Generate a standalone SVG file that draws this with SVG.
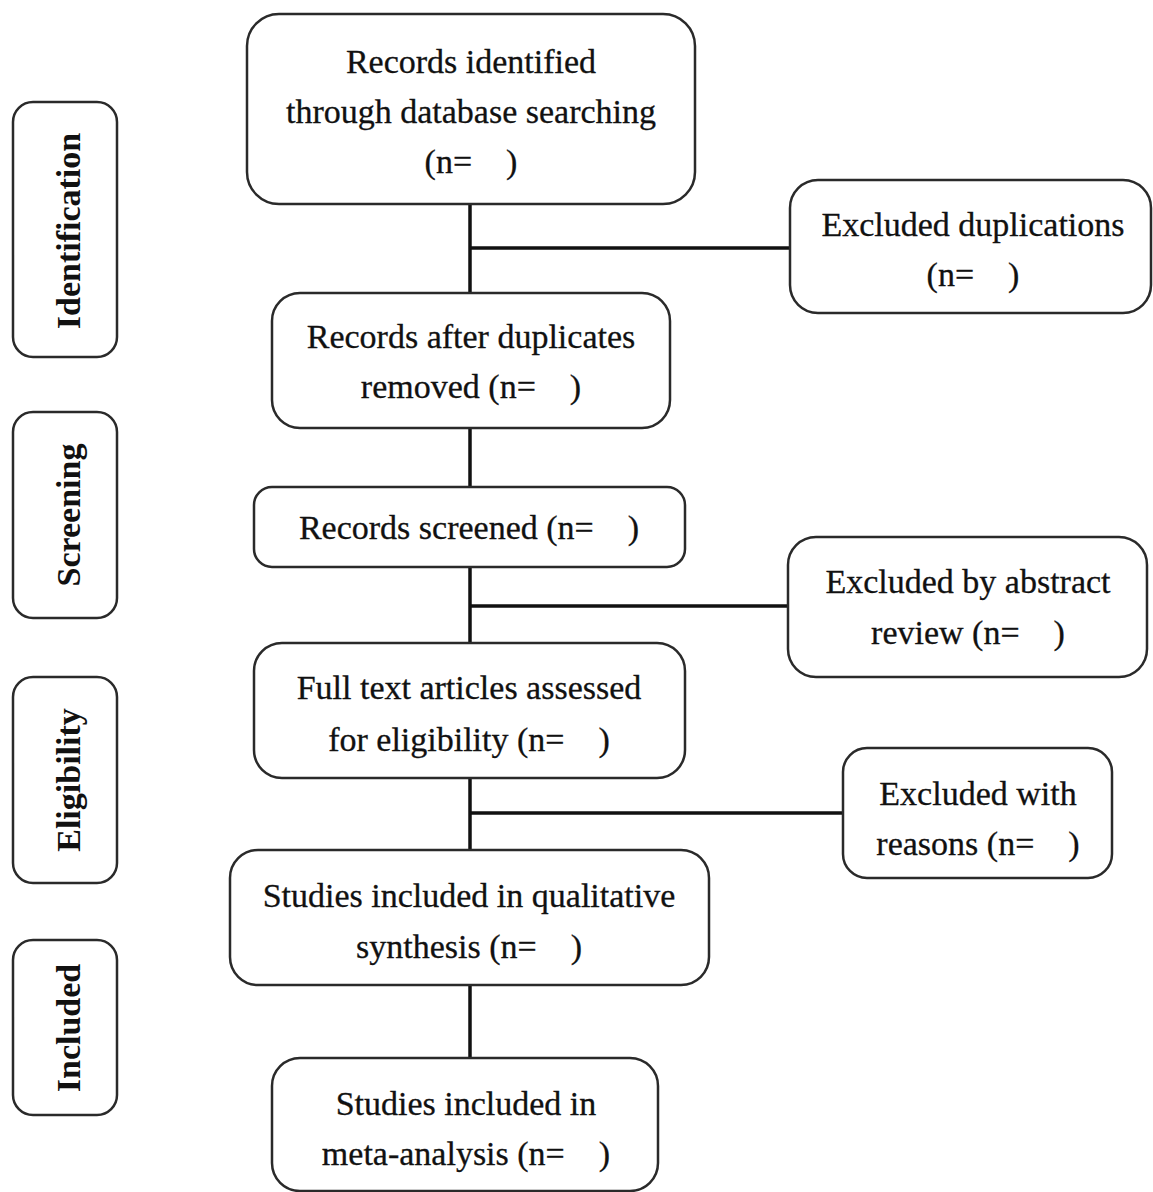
<svg xmlns="http://www.w3.org/2000/svg" width="1153" height="1192" viewBox="0 0 1153 1192">
<style>
.box{fill:#fff;stroke:#2a2a2a;stroke-width:2.5}
.side{fill:#fff;stroke:#2a2a2a;stroke-width:2.5}
.t{font-family:"Liberation Serif","Times New Roman",serif;font-size:34px;fill:#111;text-anchor:middle;stroke:#111;stroke-width:0.3}
.s{font-family:"Liberation Serif","Times New Roman",serif;font-size:34px;font-weight:bold;fill:#111;text-anchor:middle}
.c{stroke:#111;stroke-width:3.5;fill:none}
</style>
<rect width="1153" height="1192" fill="#fff"/>
<g id="connectors">
<line class="c" x1="470" y1="204" x2="470" y2="293"/>
<line class="c" x1="470" y1="248" x2="790" y2="248"/>
<line class="c" x1="470" y1="428" x2="470" y2="487"/>
<line class="c" x1="470" y1="567" x2="470" y2="643"/>
<line class="c" x1="470" y1="606" x2="788" y2="606"/>
<line class="c" x1="470" y1="778" x2="470" y2="850"/>
<line class="c" x1="470" y1="813" x2="843" y2="813"/>
<line class="c" x1="470" y1="985" x2="470" y2="1058"/>
</g>
<g id="side-identification">
<rect class="side" x="13" y="102" width="104" height="255" rx="20"/>
<text class="s" transform="translate(80,231) rotate(-90)">Identification</text>
</g>
<g id="side-screening">
<rect class="side" x="13" y="412" width="104" height="206" rx="20"/>
<text class="s" transform="translate(80,515) rotate(-90)">Screening</text>
</g>
<g id="side-eligibility">
<rect class="side" x="13" y="677" width="104" height="206" rx="20"/>
<text class="s" transform="translate(80,780) rotate(-90)">Eligibility</text>
</g>
<g id="side-included">
<rect class="side" x="13" y="940" width="104" height="175" rx="20"/>
<text class="s" transform="translate(80,1028) rotate(-90)">Included</text>
</g>
<g id="n1">
<rect class="box" x="247" y="14" width="448" height="190" rx="32"/>
<text class="t" x="471" y="73">Records identified</text>
<text class="t" x="471" y="123">through database searching</text>
<text class="t" x="471" y="173">(n=&#160;&#160;&#160;&#160;)</text>
</g>
<g id="n2">
<rect class="box" x="790" y="180" width="361" height="133" rx="28"/>
<text class="t" x="973" y="236">Excluded duplications</text>
<text class="t" x="973" y="286">(n=&#160;&#160;&#160;&#160;)</text>
</g>
<g id="n3">
<rect class="box" x="272" y="293" width="398" height="135" rx="28"/>
<text class="t" x="471" y="348">Records after duplicates</text>
<text class="t" x="471" y="398">removed (n=&#160;&#160;&#160;&#160;)</text>
</g>
<g id="n4">
<rect class="box" x="254" y="487" width="431" height="80" rx="18"/>
<text class="t" x="469" y="539">Records screened (n=&#160;&#160;&#160;&#160;)</text>
</g>
<g id="n5">
<rect class="box" x="788" y="537" width="359" height="140" rx="28"/>
<text class="t" x="968" y="593">Excluded by abstract</text>
<text class="t" x="968" y="644">review (n=&#160;&#160;&#160;&#160;)</text>
</g>
<g id="n6">
<rect class="box" x="254" y="643" width="431" height="135" rx="28"/>
<text class="t" x="469" y="699">Full text articles assessed</text>
<text class="t" x="469" y="751">for eligibility (n=&#160;&#160;&#160;&#160;)</text>
</g>
<g id="n7">
<rect class="box" x="843" y="748" width="269" height="130" rx="24"/>
<text class="t" x="978" y="805">Excluded with</text>
<text class="t" x="978" y="855">reasons (n=&#160;&#160;&#160;&#160;)</text>
</g>
<g id="n8">
<rect class="box" x="230" y="850" width="479" height="135" rx="28"/>
<text class="t" x="469" y="907">Studies included in qualitative</text>
<text class="t" x="469" y="958">synthesis (n=&#160;&#160;&#160;&#160;)</text>
</g>
<g id="n9">
<rect class="box" x="272" y="1058" width="386" height="133" rx="28"/>
<text class="t" x="466" y="1115">Studies included in</text>
<text class="t" x="466" y="1165">meta-analysis (n=&#160;&#160;&#160;&#160;)</text>
</g>
</svg>
